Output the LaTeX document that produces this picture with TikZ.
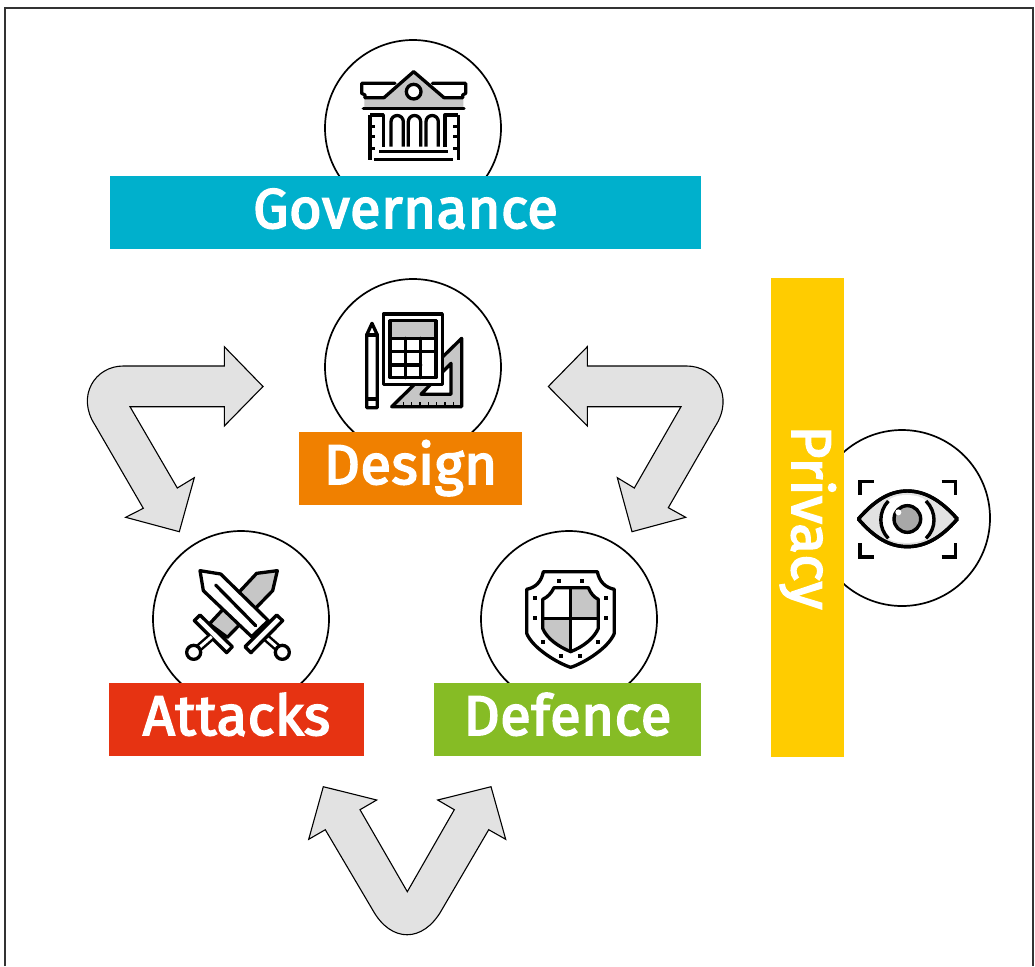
\documentclass[tikz,border=0pt]{standalone}
\usepackage{fontspec}
\setmainfont{Fira Sans}
\newfontfamily\lblfont[FakeBold=3.2,LetterSpace=1.0]{Fira Sans}
\definecolor{govc}{HTML}{00B0CC}
\definecolor{desc}{HTML}{F08000}
\definecolor{attc}{HTML}{E63312}
\definecolor{defc}{HTML}{86BC25}
\definecolor{prvc}{HTML}{FFCC00}
\definecolor{arrc}{HTML}{E2E2E2}
\definecolor{icog}{HTML}{C6C6C6}
\tikzset{
  ring/.style={circle,draw=black,line width=1.7pt,fill=white,minimum size=176pt,inner sep=0pt},
  band/.style={rectangle,inner sep=0pt,minimum height=73pt,text=white,text height=38pt,text depth=7pt,font=\lblfont\fontsize{56}{60}\selectfont},
  blockarrow/.style={draw=black,line width=1.1pt,fill=arrc,line join=miter},
  ico/.style={draw=black,line width=3.3pt,line join=round,line cap=round},
  zoomed/.style={shift={#1},x=0.33333pt,y=-0.33333pt},
}
\begin{document}
\begin{tikzpicture}[x=1pt,y=-1pt]
\useasboundingbox (0,0) rectangle (1035,966);
\fill[white] (0,0) rectangle (1035,966);
\draw[line width=1.4pt,draw=black!80] (5,966) -- (5,8) -- (1033,8) -- (1033,966);

% block arrows
\draw[blockarrow] (263,386.5) -- (224.3,346.7) -- (224.3,366) -- (123.3,366)
  .. controls (95,366) and (76,396) .. (95,425) -- (143.3,508.3) -- (125.7,517.3) -- (179.3,531.7)
  -- (194.3,477.7) -- (177.3,488) -- (130,406.7) -- (224.3,406.7) -- (224.3,426) -- cycle;
\draw[blockarrow] (548.3,386.5) -- (587.3,346.7) -- (587.3,366) -- (686.7,366)
  .. controls (715,366) and (735,396) .. (715,426.7) -- (668.3,507.7) -- (685.7,517.3) -- (632,531.7)
  -- (617.3,477.7) -- (634.3,488) -- (681,406.7) -- (587.3,406.7) -- (587.3,426) -- cycle;
\draw[blockarrow] (323.3,786.7) -- (376.7,800) -- (360,809.7) -- (407.3,891.7) -- (454.3,809.7)
  -- (437.7,800) -- (491,786.7) -- (505.7,839.3) -- (488.7,829.7) -- (441.7,910)
  .. controls (423,943) and (391,943) .. (372.7,910) -- (325.3,829.7) -- (308.7,839.3) -- cycle;

% circles
\node[ring] (govring) at (413,128) {};
\node[ring] (desring) at (413,367) {};
\node[ring] (attring) at (241,619) {};
\node[ring] (defring) at (569,619) {};
\node[ring] (prvring) at (902,518) {};

% bands
\node[band,fill=govc,minimum width=591pt] (gov) at (405.5,212.5) {Governance};
\node[band,fill=desc,minimum width=223pt] (des) at (410.5,468.5) {Design};
\node[band,fill=attc,minimum width=255pt] (att) at (236.5,719.5) {Attacks};
\node[band,fill=defc,minimum width=267pt] (def) at (567.5,719.5) {Defence};
\node[band,fill=prvc,minimum width=479pt,rotate=-90] (prv) at (807.5,517.5) {Privacy};

% building icon
\begin{scope}[zoomed={(320,30)}]
\fill[icog] (192,203) -- (281,125) -- (372,203) -- (430,203) -- (430,235) -- (133,235) -- (133,203) -- cycle;
\draw[ico] (130,235) -- (432,235);
\draw[ico] (135,203) -- (192,203) -- (281,125) -- (372,203) -- (428,203);
\draw[ico] (225,160) -- (125,160) -- (125,190) -- (135,195) -- (135,203);
\draw[ico] (337,160) -- (437,160) -- (437,190) -- (428,195) -- (428,203);
\draw[ico,fill=white] (281,185) circle (22);
\draw[ico,line cap=butt] (150,255) -- (150,390);
\draw[ico,line cap=butt] (150,255) -- (190,255) -- (190,350);
\draw[ico,line cap=butt] (415,255) -- (415,390);
\draw[ico,line cap=butt] (415,255) -- (375,255) -- (375,350);
\foreach \yy in {290,320,355} {
  \draw[ico,line cap=butt] (150,\yy) -- (165,\yy);
  \draw[ico,line cap=butt] (415,\yy) -- (400,\yy);
}
\foreach \xa/\xb in {213/250,265/302,318/355} {
  \draw[ico,line cap=butt] (\xa,350) -- (\xa,275) arc[start angle=180,end angle=360,radius={(\xb-\xa)/2}] -- (\xb,350);
}
\draw[line width=3.6pt,line cap=butt] (178,365) -- (385,365);
\draw[line width=3.6pt,line cap=butt] (162,388) -- (400,388);
\end{scope}

% design icon
\begin{scope}[zoomed={(320,275)}]
\draw[ico,fill=icog] (425,190) -- (425,395) -- (215,395) -- cycle;
\draw[ico,fill=white] (393,265) -- (393,358) -- (303,358) -- cycle;
\foreach \xx in {250,275,300,325,350,375,400} \draw[line width=1.6pt,line cap=butt] (\xx,395) -- (\xx,380);
\draw[ico,fill=white] (190,117) rectangle (367,328);
\draw[ico,fill=white] (210,137) rectangle (348,308);
\draw[ico,fill=icog] (210,137) rectangle (348,190);
\draw[ico] (210,230) -- (348,230);
\draw[ico] (210,270) -- (302,270);
\draw[ico] (257,190) -- (257,308);
\draw[ico] (302,190) -- (302,308);
\draw[ico,fill=white] (140,180) -- (156,145) -- (172,180) -- (172,398) -- (140,398) -- cycle;
\draw[ico] (140,180) -- (172,180);
\draw[ico] (140,372) -- (172,372);
\end{scope}

% swords icon
\begin{scope}[zoomed={(150,530)}]
\draw[ico,fill=icog] (382,122) -- (320,130) -- (178,282) -- (232,322) -- (368,182) -- cycle;
\draw[ico,fill=white] (150,255) -- (247,350) -- (230,368) -- (133,272) -- cycle;
\draw[line width=8pt,line cap=butt] (185,320) -- (145,355);
\draw[line width=3pt,white,line cap=butt] (185,320) -- (145,355);
\draw[ico,fill=white] (131,367) circle (21);
\draw[line width=8pt,line cap=butt] (345,320) -- (385,355);
\draw[line width=3pt,white,line cap=butt] (345,320) -- (385,355);
\draw[ico,fill=white] (397,367) circle (21);
\draw[ico,fill=white] (150,122) -- (212,132) -- (355,272) -- (305,320) -- (160,182) -- cycle;
\draw[ico] (197,165) -- (317,287);
\draw[ico,fill=white] (380,255) -- (398,272) -- (303,368) -- (285,350) -- cycle;
\end{scope}

% shield icon
\begin{scope}[zoomed={(480,530)}]
\draw[ico,fill=white] (190,125) -- (352,125) .. controls (358,155) and (375,172) .. (403,178) -- (403,310)
  .. controls (385,355) and (310,400) .. (272,412) .. controls (234,400) and (158,355) .. (140,310) -- (140,178)
  .. controls (168,172) and (184,155) .. (190,125) -- cycle;
\fill[icog] (272,173) -- (325,173) .. controls (332,190) and (342,202) .. (355,208) -- (355,265) -- (272,265) -- cycle;
\fill[icog] (188,265) -- (272,265) -- (272,365) .. controls (235,350) and (200,325) .. (188,295) -- cycle;
\draw[ico] (222,173) -- (325,173) .. controls (332,190) and (342,202) .. (355,208) -- (355,295)
  .. controls (342,325) and (310,350) .. (272,365) .. controls (235,350) and (200,325) .. (188,295) -- (188,208)
  .. controls (202,202) and (214,190) .. (222,173) -- cycle;
\draw[ico] (272,173) -- (272,365);
\draw[ico] (188,265) -- (355,265);
\foreach \px/\py in {237/153,306/153,165/204,378/204,165/264,378/264,189/336,354/336,243/378,300/378}
  \fill (\px-6,\py-6) rectangle (\px+6,\py+6);
\end{scope}

% eye icon
\begin{scope}[zoomed={(820,425)}]
\draw[ico,line width=3.4pt,line cap=butt,line join=miter] (120,210) -- (120,169) -- (163,169);
\draw[ico,line width=3.4pt,line cap=butt,line join=miter] (365,169) -- (406,169) -- (406,210);
\draw[ico,line width=3.4pt,line cap=butt,line join=miter] (120,355) -- (120,396) -- (163,396);
\draw[ico,line width=3.4pt,line cap=butt,line join=miter] (365,396) -- (406,396) -- (406,355);
\draw[ico,fill=arrc,line width=3.4pt] (115,282) .. controls (165,225) and (210,198) .. (262,198) .. controls (314,198) and (362,225) .. (412,282)
  .. controls (362,340) and (314,365) .. (262,365) .. controls (210,365) and (165,340) .. (115,282) -- cycle;
\fill[white] (205,228) .. controls (220,204) and (300,204) .. (318,228) .. controls (350,255) and (350,310) .. (318,340)
  .. controls (300,358) and (220,358) .. (205,340) .. controls (175,310) and (175,255) .. (205,228) -- cycle;
\draw[ico,line width=3.4pt,line cap=butt] (262,198) .. controls (314,198) and (362,225) .. (412,282);
\draw[ico,line width=3.4pt,line cap=butt] (262,198) .. controls (210,198) and (165,225) .. (115,282);
\draw[ico,line width=3.4pt,line cap=butt] (412,282) .. controls (362,340) and (314,365) .. (262,365) .. controls (210,365) and (165,340) .. (115,282);
\draw[ico,line width=3.4pt,line cap=butt] (205,228) .. controls (175,260) and (175,310) .. (205,340);
\draw[ico,line width=3.4pt,line cap=butt] (318,228) .. controls (350,260) and (350,310) .. (318,340);
\draw[ico,line width=3.4pt,fill=icog!85!black] (262,282) circle (40);
\fill[white] (235,262) circle (9);
\end{scope}
\end{tikzpicture}
\end{document}
